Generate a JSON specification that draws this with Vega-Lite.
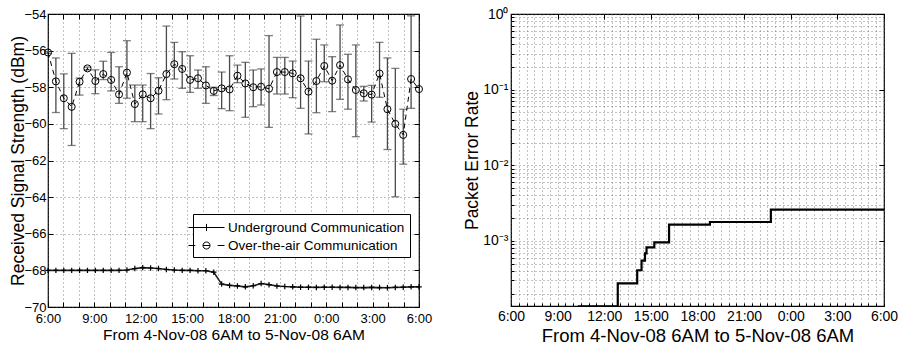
{
  "$schema": "https://vega.github.io/schema/vega-lite/v6.json",
  "padding": {"left": 9, "top": 6, "right": 5, "bottom": 5},
  "spacing": 30,
  "config": {
    "font": "Liberation Sans",
    "view": {"stroke": "black", "strokeWidth": 1.2},
    "axis": {"labelColor": "black", "titleColor": "black", "tickColor": "black", "titleFontWeight": "normal", "domain": false, "labelFlush": false, "labelOverlap": false, "gridColor": "#555", "gridDash": [1, 3], "gridWidth": 0.8, "gridOpacity": 0.9}
  },
  "datasets": {
    "ota": [
      {"t": 0, "v": -56.1, "hi": -56.05, "lo": -56.15},
      {"t": 0.511, "v": -57.68, "hi": -56.4, "lo": -59.38},
      {"t": 1.021, "v": -58.6, "hi": -57.27, "lo": -60.26},
      {"t": 1.532, "v": -59.07, "hi": -56.15, "lo": -61.18},
      {"t": 2.043, "v": -57.7, "hi": -57.5, "lo": -58.43},
      {"t": 2.553, "v": -56.97, "hi": -56.9, "lo": -57.05},
      {"t": 3.064, "v": -57.66, "hi": -57.05, "lo": -58.35},
      {"t": 3.574, "v": -57.28, "hi": -56.58, "lo": -57.58},
      {"t": 4.085, "v": -57.6, "hi": -56.1, "lo": -58.2},
      {"t": 4.596, "v": -58.39, "hi": -56.88, "lo": -58.88},
      {"t": 5.106, "v": -57.2, "hi": -55.46, "lo": -58.6},
      {"t": 5.617, "v": -58.92, "hi": -57.88, "lo": -59.88},
      {"t": 6.128, "v": -58.39, "hi": -57.88, "lo": -59.88},
      {"t": 6.638, "v": -58.6, "hi": -57.25, "lo": -60.26},
      {"t": 7.149, "v": -58.19, "hi": -57.48, "lo": -59.46},
      {"t": 7.66, "v": -57.28, "hi": -54.66, "lo": -58.68},
      {"t": 8.17, "v": -56.74, "hi": -55.55, "lo": -57.55},
      {"t": 8.681, "v": -57.0, "hi": -56.06, "lo": -58.06},
      {"t": 9.191, "v": -57.6, "hi": -56.28, "lo": -58.28},
      {"t": 9.702, "v": -57.51, "hi": -57.06, "lo": -58.06},
      {"t": 10.213, "v": -57.9, "hi": -56.88, "lo": -58.88},
      {"t": 10.723, "v": -58.2, "hi": -58.0, "lo": -58.45},
      {"t": 11.234, "v": -58.06, "hi": -57.17, "lo": -59.17},
      {"t": 11.745, "v": -58.12, "hi": -56.28, "lo": -59.28},
      {"t": 12.255, "v": -57.37, "hi": -56.79, "lo": -57.75},
      {"t": 12.766, "v": -57.79, "hi": -56.64, "lo": -59.64},
      {"t": 13.277, "v": -58.0, "hi": -57.06, "lo": -59.06},
      {"t": 13.787, "v": -57.97, "hi": -57.0, "lo": -58.97},
      {"t": 14.298, "v": -58.08, "hi": -55.18, "lo": -60.19},
      {"t": 14.809, "v": -57.17, "hi": -56.37, "lo": -58.37},
      {"t": 15.319, "v": -57.17, "hi": -56.37, "lo": -58.37},
      {"t": 15.83, "v": -57.24, "hi": -56.57, "lo": -58.57},
      {"t": 16.34, "v": -57.51, "hi": -54.11, "lo": -59.15},
      {"t": 16.851, "v": -58.24, "hi": -56.57, "lo": -60.55},
      {"t": 17.362, "v": -57.66, "hi": -55.38, "lo": -59.39},
      {"t": 17.872, "v": -56.84, "hi": -55.69, "lo": -57.7},
      {"t": 18.383, "v": -57.64, "hi": -56.33, "lo": -59.33},
      {"t": 18.894, "v": -56.79, "hi": -54.6, "lo": -58.66},
      {"t": 19.404, "v": -57.57, "hi": -56.2, "lo": -59.2},
      {"t": 19.915, "v": -58.15, "hi": -55.69, "lo": -60.7},
      {"t": 20.426, "v": -58.33, "hi": -57.95, "lo": -58.75},
      {"t": 20.936, "v": -58.4, "hi": -57.9, "lo": -59.9},
      {"t": 21.447, "v": -57.25, "hi": -55.55, "lo": -58.55},
      {"t": 21.957, "v": -59.2, "hi": -56.4, "lo": -61.4},
      {"t": 22.468, "v": -60.0, "hi": -56.97, "lo": -63.98},
      {"t": 22.979, "v": -60.6, "hi": -59.2, "lo": -62.2},
      {"t": 23.489, "v": -57.55, "hi": -54.1, "lo": -59.15},
      {"t": 24.0, "v": -58.1, "hi": null, "lo": null}
    ],
    "ug": [
      {"t": 0, "v": -68.0}, {"t": 0.511, "v": -68.0}, {"t": 1.021, "v": -68.0}, {"t": 1.532, "v": -68.0},
      {"t": 2.043, "v": -68.0}, {"t": 2.553, "v": -68.0}, {"t": 3.064, "v": -68.0}, {"t": 3.574, "v": -68.0},
      {"t": 4.085, "v": -68.0}, {"t": 4.596, "v": -68.0}, {"t": 5.106, "v": -67.98}, {"t": 5.617, "v": -67.9},
      {"t": 6.128, "v": -67.85}, {"t": 6.638, "v": -67.87}, {"t": 7.149, "v": -67.9}, {"t": 7.66, "v": -67.95},
      {"t": 8.17, "v": -67.98}, {"t": 8.681, "v": -68.0}, {"t": 9.191, "v": -68.0}, {"t": 9.702, "v": -68.02},
      {"t": 10.213, "v": -68.02}, {"t": 10.723, "v": -68.1}, {"t": 11.234, "v": -68.75}, {"t": 11.745, "v": -68.82},
      {"t": 12.255, "v": -68.85}, {"t": 12.766, "v": -68.9}, {"t": 13.277, "v": -68.84}, {"t": 13.787, "v": -68.72},
      {"t": 14.298, "v": -68.78}, {"t": 14.809, "v": -68.85}, {"t": 15.319, "v": -68.88}, {"t": 15.83, "v": -68.9},
      {"t": 16.34, "v": -68.92}, {"t": 16.851, "v": -68.92}, {"t": 17.362, "v": -68.93}, {"t": 17.872, "v": -68.92},
      {"t": 18.383, "v": -68.92}, {"t": 18.894, "v": -68.93}, {"t": 19.404, "v": -68.93}, {"t": 19.915, "v": -68.94},
      {"t": 20.426, "v": -68.94}, {"t": 20.936, "v": -68.93}, {"t": 21.447, "v": -68.94}, {"t": 21.957, "v": -68.95},
      {"t": 22.468, "v": -68.93}, {"t": 22.979, "v": -68.92}, {"t": 23.489, "v": -68.9}, {"t": 24.0, "v": -68.9}
    ],
    "per": [
      {"t": 4.3, "p": 0.000137},
      {"t": 6.87, "p": 0.000274},
      {"t": 8.12, "p": 0.00041},
      {"t": 8.4, "p": 0.00055},
      {"t": 8.62, "p": 0.000685},
      {"t": 8.72, "p": 0.00082},
      {"t": 9.22, "p": 0.00096},
      {"t": 10.17, "p": 0.00164},
      {"t": 12.8, "p": 0.00178},
      {"t": 16.72, "p": 0.0026},
      {"t": 24.0, "p": 0.0026}
    ]
  },
  "hconcat": [
    {
      "width": 371,
      "height": 293,
      "layer": [
        {
          "data": {"name": "ota"},
          "mark": {"type": "errorbar", "color": "#4a4a4a", "thickness": 1.3, "ticks": {"size": 8, "color": "#4a4a4a", "thickness": 1.3}},
          "encoding": {
            "x": {"field": "t", "type": "quantitative", "scale": {"domain": [0, 24], "nice": false, "zero": false}, "axis": null},
            "y": {"field": "lo", "type": "quantitative", "scale": {"domain": [-70, -54], "nice": false, "zero": false}, "axis": null},
            "y2": {"field": "hi"}
          }
        },
        {
          "data": {"name": "ota"},
          "mark": {"type": "line", "color": "black", "strokeWidth": 1, "strokeDash": [5, 4]},
          "encoding": {
            "x": {"field": "t", "type": "quantitative", "axis": {
              "values": [0,1,2,3,4,5,6,7,8,9,10,11,12,13,14,15,16,17,18,19,20,21,22,23,24],
              "labelExpr": "datum.value % 3 == 0 ? ((datum.value + 6) % 24) + ':00' : ''",
              "grid": true, "tickSize": -5, "labelPadding": 10, "labelFontSize": 13,
              "title": "From 4-Nov-08 6AM to 5-Nov-08 6AM", "titleFontSize": 15.5, "titlePadding": 2}},
            "y": {"field": "v", "type": "quantitative", "axis": {
              "values": [-70,-68,-66,-64,-62,-60,-58,-56,-54],
              "grid": true, "tickSize": -5, "labelPadding": 7, "labelFontSize": 13,
              "title": "Received Signal Strength (dBm)", "titleFontSize": 17.5, "titlePadding": -4}}
          }
        },
        {
          "data": {"name": "ota"},
          "mark": {"type": "point", "shape": "circle", "filled": false, "stroke": "black", "strokeWidth": 1, "size": 50, "opacity": 1},
          "encoding": {
            "x": {"field": "t", "type": "quantitative", "axis": null},
            "y": {"field": "v", "type": "quantitative", "axis": null}
          }
        },
        {
          "data": {"name": "ug"},
          "mark": {"type": "line", "color": "#222", "strokeWidth": 1.6},
          "encoding": {
            "x": {"field": "t", "type": "quantitative", "axis": {
              "orient": "top", "values": [0,1,2,3,4,5,6,7,8,9,10,11,12,13,14,15,16,17,18,19,20,21,22,23,24],
              "labels": false, "grid": false, "tickSize": -5, "title": null}},
            "y": {"field": "v", "type": "quantitative", "axis": {
              "orient": "right", "values": [-70,-68,-66,-64,-62,-60,-58,-56,-54],
              "labels": false, "grid": false, "tickSize": -5, "title": null}}
          }
        },
        {
          "data": {"name": "ug"},
          "mark": {"type": "point", "shape": "M-1,0H1M0,-1V1", "filled": false, "stroke": "black", "strokeWidth": 1.2, "size": 30, "opacity": 1},
          "encoding": {
            "x": {"field": "t", "type": "quantitative", "axis": null},
            "y": {"field": "v", "type": "quantitative", "axis": null}
          }
        },
        {
          "data": {"name": "ota"},
          "mark": {"type": "point", "filled": false, "color": "black", "stroke": "black", "opacity": 0},
          "encoding": {
            "x": {"field": "t", "type": "quantitative", "axis": null},
            "y": {"field": "v", "type": "quantitative", "axis": null},
            "shape": {"datum": "Over-the-air Communication", "type": "nominal",
              "scale": {"domain": ["Underground Communication", "Over-the-air Communication"],
                "range": ["M-2.25,0H2.25M0,-0.45V0.45", "M-2.25,0H-1.4M1.4,0H2.25M0.44,0A0.44,0.44 0 1,1 -0.44,0A0.44,0.44 0 1,1 0.44,0M-0.44,0H0.44"]},
              "legend": {
                "title": null, "orient": "none", "legendX": 145, "legendY": 200,
                "strokeColor": "black", "fillColor": "white", "padding": 5,
                "labelFontSize": 13.5, "labelColor": "black", "labelOffset": 13, "labelLimit": 0,
                "symbolSize": 256, "rowPadding": 3, "symbolOpacity": 1,
                "symbolStrokeColor": "black", "symbolFillColor": "transparent", "symbolStrokeWidth": 1,
                "encode": {
                  "legend": {"update": {"strokeWidth": {"value": 1.5}}},
                  "symbols": {"update": {
                    "fill": {"value": "transparent"},
                    "stroke": {"value": "black"},
                    "strokeWidth": {"value": 1},
                    "size": {"value": 256},
                    "opacity": {"value": 1}
                  }}
                }
              }}
          }
        },
        {
          "data": {"name": "ug"},
          "mark": {"type": "point", "filled": false, "color": "black", "stroke": "black", "opacity": 0},
          "encoding": {
            "x": {"field": "t", "type": "quantitative", "axis": null},
            "y": {"field": "v", "type": "quantitative", "axis": null},
            "shape": {"datum": "Underground Communication", "type": "nominal"}
          }
        }
      ],
      "resolve": {"axis": {"x": "independent", "y": "independent"}}
    },
    {
      "width": 373,
      "height": 292,
      "data": {"name": "per"},
      "layer": [
        {
          "mark": {"type": "line", "interpolate": "step-after", "color": "black", "strokeWidth": 2.2, "clip": true},
          "encoding": {
            "x": {"field": "t", "type": "quantitative", "scale": {"domain": [0, 24], "nice": false, "zero": false}, "axis": {
              "values": [0,0.5,1,1.5,2,2.5,3,3.5,4,4.5,5,5.5,6,6.5,7,7.5,8,8.5,9,9.5,10,10.5,11,11.5,12,12.5,13,13.5,14,14.5,15,15.5,16,16.5,17,17.5,18,18.5,19,19.5,20,20.5,21,21.5,22,22.5,23,23.5,24],
              "labelExpr": "datum.value % 3 == 0 ? ((datum.value + 6) % 24) + ':00' : ''",
              "grid": true, "tickSize": -3, "labelPadding": 6, "labelFontSize": 14,
              "title": "From 4-Nov-08 6AM to 5-Nov-08 6AM", "titleFontSize": 18.5, "titlePadding": 3}},
            "y": {"field": "p", "type": "quantitative", "scale": {"type": "log", "domain": [0.000138, 1], "nice": false}, "axis": {
              "values": [0.0002,0.0003,0.0004,0.0005,0.0006,0.0007,0.0008,0.0009,0.001,0.002,0.003,0.004,0.005,0.006,0.007,0.008,0.009,0.01,0.02,0.03,0.04,0.05,0.06,0.07,0.08,0.09,0.1,0.2,0.3,0.4,0.5,0.6,0.7,0.8,0.9,1],
              "labelExpr": "abs(log(datum.value)/LN10 - round(log(datum.value)/LN10)) < 0.001 ? '10' + ['⁰','⁻¹','⁻²','⁻³','⁻⁴'][-round(log(datum.value)/LN10)] : ''",
              "grid": true, "tickSize": -3, "labelPadding": 6, "labelFontSize": 14,
              "title": "Packet Error Rate", "titleFontSize": 17.5, "titlePadding": 1}}
          }
        },
        {
          "mark": {"type": "line", "interpolate": "step-after", "strokeOpacity": 0},
          "encoding": {
            "x": {"field": "t", "type": "quantitative", "axis": {
              "orient": "top", "values": [0,3,6,9,12,15,18,21,24], "labels": false, "grid": false, "tickSize": -5, "title": null}},
            "y": {"field": "p", "type": "quantitative", "axis": {
              "orient": "right", "values": [0.001,0.01,0.1,1], "labels": false, "grid": false, "tickSize": -5, "title": null}}
          }
        }
      ],
      "resolve": {"axis": {"x": "independent", "y": "independent"}}
    }
  ]
}
